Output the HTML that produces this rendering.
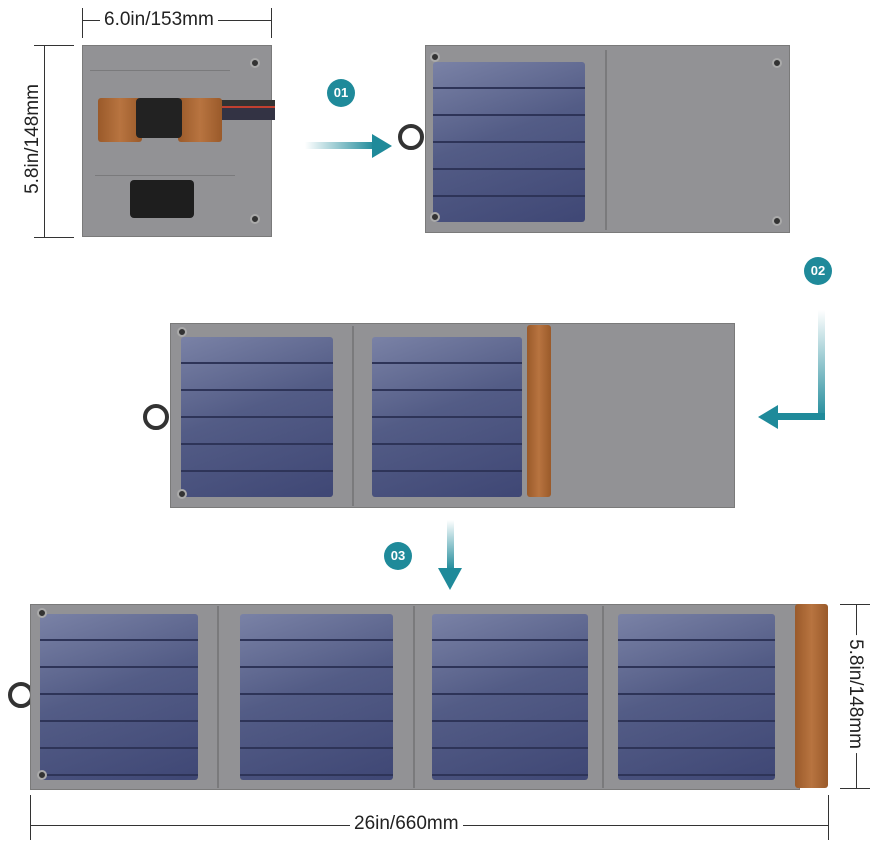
<!DOCTYPE html>
<html><head><style>
body{margin:0;width:877px;height:860px;background:#fff;position:relative;overflow:hidden;font-family:"Liberation Sans",sans-serif}
div{position:absolute;box-sizing:border-box}
.f{background:#929295;border:1px solid #7a7a7a}
.c{border-radius:3px;
background-image:repeating-linear-gradient(180deg,transparent 0,transparent 25px,#2e3458 25px,#2e3458 27px),linear-gradient(160deg,#7a82a6 0%,#535c86 45%,#3f4775 100%)}
.l{background:linear-gradient(90deg,#9a5a2a,#b87440,#9a5a2a);border-radius:3px}
.n{width:28px;height:28px;border-radius:50%;background:#1f8a9a;color:#fff;font-weight:bold;font-size:13px;text-align:center;line-height:28px}
.s{width:10px;height:10px;border-radius:50%;background:#333;border:2px solid #aaa}
.ln{background:#333}
.sm{background:#7a7a7c}
.t{font-size:19px;color:#222;background:#fff;padding:0 4px}
.ring{border:4px solid #333;border-radius:50%}
</style></head><body>
<!-- top dims -->
<div class="ln" style="left:82px;top:20px;width:190px;height:1px"></div>
<div class="ln" style="left:82px;top:8px;width:1px;height:30px"></div>
<div class="ln" style="left:271px;top:8px;width:1px;height:30px"></div>
<div class="t" style="left:100px;top:9px">6.0in/153mm</div>
<div class="ln" style="left:44px;top:45px;width:1px;height:192px"></div>
<div class="ln" style="left:34px;top:45px;width:40px;height:1px"></div>
<div class="ln" style="left:34px;top:237px;width:40px;height:1px"></div>
<div class="t" style="left:-26px;top:128px;transform:rotate(-90deg)">5.8in/148mm</div>
<!-- folded -->
<div class="f" style="left:82px;top:45px;width:190px;height:192px"></div>
<div class="sm" style="left:90px;top:70px;width:140px;height:1px"></div>
<div class="sm" style="left:95px;top:175px;width:140px;height:1px"></div>
<div style="left:100px;top:100px;width:175px;height:20px;background:linear-gradient(#333 0,#333 30%,#c04030 30%,#c04030 40%,#334 40%)"></div>
<div class="l" style="left:98px;top:98px;width:44px;height:44px"></div>
<div class="l" style="left:178px;top:98px;width:44px;height:44px"></div>
<div style="left:136px;top:98px;width:46px;height:40px;background:#222;border-radius:4px"></div>
<div style="left:130px;top:180px;width:64px;height:38px;background:#1e1e1e;border-radius:4px"></div>
<div class="s" style="left:250px;top:58px"></div><div class="s" style="left:250px;top:214px"></div>
<!-- 01 -->
<div class="n" style="left:327px;top:79px">01</div>
<div style="left:305px;top:142px;width:70px;height:7px;background:linear-gradient(90deg,#fff,#1f8a9a)"></div>
<div style="left:372px;top:134px;width:0;height:0;border-left:20px solid #1f8a9a;border-top:12px solid transparent;border-bottom:12px solid transparent"></div>
<!-- top right -->
<div class="ring" style="left:398px;top:124px;width:26px;height:26px"></div>
<div class="f" style="left:425px;top:45px;width:365px;height:188px"></div>
<div class="sm" style="left:605px;top:50px;width:2px;height:180px"></div>
<div class="c" style="left:433px;top:62px;width:152px;height:160px"></div>
<div class="s" style="left:430px;top:52px"></div><div class="s" style="left:430px;top:212px"></div>
<div class="s" style="left:772px;top:58px"></div><div class="s" style="left:772px;top:216px"></div>
<!-- 02 -->
<div class="n" style="left:804px;top:257px">02</div>
<div style="left:818px;top:310px;width:7px;height:110px;background:linear-gradient(#fff,#1f8a9a)"></div>
<div style="left:775px;top:413px;width:50px;height:7px;background:#1f8a9a"></div>
<div style="left:758px;top:405px;width:0;height:0;border-right:20px solid #1f8a9a;border-top:12px solid transparent;border-bottom:12px solid transparent"></div>
<!-- middle -->
<div class="ring" style="left:143px;top:404px;width:26px;height:26px"></div>
<div class="f" style="left:170px;top:323px;width:565px;height:185px"></div>
<div class="sm" style="left:352px;top:326px;width:2px;height:180px"></div>
<div class="c" style="left:181px;top:337px;width:152px;height:160px"></div>
<div class="c" style="left:372px;top:337px;width:150px;height:160px"></div>
<div class="l" style="left:527px;top:325px;width:24px;height:172px"></div>
<div class="s" style="left:177px;top:327px"></div><div class="s" style="left:177px;top:489px"></div>
<!-- 03 -->
<div class="n" style="left:384px;top:542px">03</div>
<div style="left:447px;top:520px;width:7px;height:50px;background:linear-gradient(#fff,#1f8a9a)"></div>
<div style="left:438px;top:568px;width:0;height:0;border-top:22px solid #1f8a9a;border-left:12px solid transparent;border-right:12px solid transparent"></div>
<!-- bottom -->
<div class="ring" style="left:8px;top:682px;width:26px;height:26px"></div>
<div class="f" style="left:30px;top:604px;width:770px;height:186px"></div>
<div class="sm" style="left:217px;top:606px;width:2px;height:182px"></div>
<div class="sm" style="left:413px;top:606px;width:2px;height:182px"></div>
<div class="sm" style="left:602px;top:606px;width:2px;height:182px"></div>
<div class="c" style="left:40px;top:614px;width:158px;height:166px"></div>
<div class="c" style="left:240px;top:614px;width:153px;height:166px"></div>
<div class="c" style="left:432px;top:614px;width:156px;height:166px"></div>
<div class="c" style="left:618px;top:614px;width:157px;height:166px"></div>
<div class="l" style="left:795px;top:604px;width:33px;height:184px"></div>
<div class="s" style="left:37px;top:608px"></div><div class="s" style="left:37px;top:770px"></div>
<!-- bottom dims -->
<div class="ln" style="left:856px;top:604px;width:1px;height:184px"></div>
<div class="ln" style="left:840px;top:604px;width:30px;height:1px"></div>
<div class="ln" style="left:840px;top:788px;width:30px;height:1px"></div>
<div class="t" style="left:796px;top:683px;transform:rotate(90deg)">5.8in/148mm</div>
<div class="ln" style="left:30px;top:825px;width:798px;height:1px"></div>
<div class="ln" style="left:30px;top:795px;width:1px;height:45px"></div>
<div class="ln" style="left:828px;top:795px;width:1px;height:45px"></div>
<div class="t" style="left:350px;top:813px">26in/660mm</div>
</body></html>
